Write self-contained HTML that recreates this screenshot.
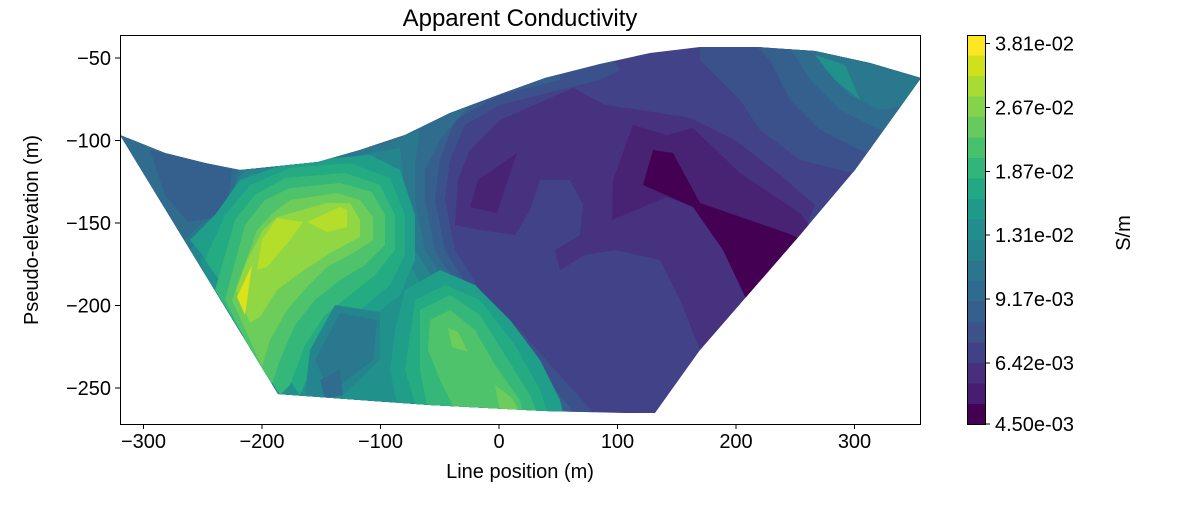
<!DOCTYPE html>
<html><head><meta charset="utf-8"><style>
body{margin:0;background:#fff;}
svg text{font-family:"Liberation Sans","DejaVu Sans",sans-serif;fill:#000;}
</style></head><body>
<svg width="1200" height="500" viewBox="0 0 1200 500" xmlns="http://www.w3.org/2000/svg">
<defs>
<clipPath id="c"><path d="M120,135 L165,153 L205,163 L240,170 L318,162 L360,150 L405,135 L450,113 L498,95 L545,78 L600,64 L650,53 L700,47 L757,47 L815,51 L870,63 L921,78 L855,170 L800,235 L700,350 L655,413 L625,413 L545,411 L430,405 L360,400 L278,394 Z"/></clipPath>
</defs>
<g clip-path="url(#c)">
<rect x="100" y="30" width="840" height="400" fill="#414287"/>
<polygon fill="#3b518b" points="100,100 600,40 620,70 600,80 560,90 500,105 465,125 450,160 445,200 455,250 480,290 520,330 555,370 600,420 100,420"/>
<polygon fill="#3b518b" points="700,40 940,40 940,200 860,175 800,160 760,130 740,100 700,60"/>
<polygon fill="#355f8d" points="100,100 560,40 560,80 500,95 455,120 440,160 435,200 445,250 470,290 505,330 540,370 580,420 100,420"/>
<polygon fill="#355f8d" points="750,40 940,40 940,170 870,155 820,130 790,100 770,60"/>
<polygon fill="#2f6c8e" points="100,100 520,40 520,80 470,105 440,140 425,170 425,200 435,250 460,290 490,320 520,360 560,420 100,420"/>
<polygon fill="#2f6c8e" points="780,40 940,40 940,130 880,130 840,110 810,80 795,55"/>
<polygon fill="#355f8d" points="150,150 205,163 232,170 228,200 212,218 188,222 165,195"/>
<polygon fill="#2a788e" points="240,165 320,160 380,145 420,130 415,165 415,200 425,250 450,290 480,320 505,360 540,420 270,420 200,330 175,250 200,225 230,205"/>
<polygon fill="#2a788e" points="810,40 940,40 940,100 880,110 850,95 825,70"/>
<polygon fill="#25858e" points="245,170 320,163 370,153 400,148 405,200 415,250 440,290 470,320 495,360 525,420 270,420 210,320 190,250 210,225"/>
<polygon fill="#21918c" points="250,175 320,166 380,160 395,200 400,250 425,290 455,320 485,360 515,420 280,420 230,340 200,260 220,225"/>
<polygon fill="#21918c" points="815,55 845,65 860,100 835,80"/>
<!-- left blob -->
<polygon fill="#1f9e89" points="215,215 240,180 290,162 370,155 400,170 415,215 415,260 400,295 375,315 350,335 330,365 320,398 190,240"/>
<polygon fill="#25ab82" points="225,215 250,185 290,168 350,163 390,178 405,215 405,255 390,285 360,310 335,330 315,360 300,395 205,260"/>
<polygon fill="#35b779" points="235,220 255,195 285,178 345,173 380,185 395,215 395,250 375,275 350,295 325,315 305,345 290,385 280,395 215,290"/>
<polygon fill="#4ec36b" points="245,225 265,200 290,188 340,183 372,192 385,215 385,245 365,265 340,280 315,300 295,325 280,360 270,390 225,300"/>
<polygon fill="#6ccd5a" points="257,230 273,213 290,200 337,193 360,200 373,217 373,240 353,253 327,267 307,287 287,310 270,340 262,367 232,300"/>
<polygon fill="#90d743" points="263,230 277,217 327,203 350,203 360,220 360,237 330,253 300,273 277,290 260,317 250,323 236,290 247,260"/>
<polygon fill="#b5de2b" points="277,218 303,222 290,240 267,267 257,270 262,240"/>
<polygon fill="#b5de2b" points="307,222 340,207 347,210 347,227 327,232"/>
<polygon fill="#dde318" points="252,265 237,297 245,315"/>
<!-- lower left patch -->
<polygon fill="#25858e" points="335,305 380,312 380,360 340,398 305,395 310,350"/>
<polygon fill="#2a788e" points="340,313 377,320 373,360 330,393 315,360"/>
<polygon fill="#2f6c8e" points="320,380 340,370 343,395 325,398"/>
<!-- lower green blob -->
<polygon fill="#1f9e89" points="405,290 440,270 475,285 510,320 540,360 560,400 565,420 400,420 390,370 395,330"/>
<polygon fill="#25ab82" points="415,300 445,285 480,300 515,345 540,390 550,420 420,420 405,370"/>
<polygon fill="#35b779" points="420,310 450,295 480,315 505,355 530,395 540,420 430,420 420,370"/>
<polygon fill="#4ec36b" points="430,320 450,310 475,330 495,365 520,400 525,420 460,420 440,380 428,350"/>
<polygon fill="#6ccd5a" points="448,328 458,332 468,352 452,347"/>
<polygon fill="#6ccd5a" points="495,385 512,398 520,412 500,412"/>
<!-- purple -->
<polygon fill="#46327f" points="458,180 470,150 500,120 573,88 605,105 640,110 690,118 735,140 780,175 815,205 800,240 703,357 680,300 660,260 615,250 585,255 560,270 555,250 580,235 583,205 570,180 540,180 530,210 515,235 480,230 455,225"/>
<polygon fill="#482374" points="633,125 667,135 693,128 740,173 800,213 813,230 750,307 723,250 693,207 667,197 612,220 613,180"/>
<polygon fill="#482374" points="478,180 517,153 497,213 470,207"/>
<polygon fill="#440154" points="653,150 673,153 700,203 787,233 803,240 750,307 723,250 693,207 643,185"/>
</g>
<!-- axes -->
<rect x="120.5" y="35.5" width="800" height="389" fill="none" stroke="#000" stroke-width="1"/>
<g stroke="#000" stroke-width="1">
<line x1="143.5" y1="424" x2="143.5" y2="429"/><line x1="262" y1="424" x2="262" y2="429"/><line x1="380.5" y1="424" x2="380.5" y2="429"/><line x1="499" y1="424" x2="499" y2="429"/><line x1="617.5" y1="424" x2="617.5" y2="429"/><line x1="736" y1="424" x2="736" y2="429"/><line x1="854.5" y1="424" x2="854.5" y2="429"/>
<line x1="115" y1="58" x2="120" y2="58"/><line x1="115" y1="140.5" x2="120" y2="140.5"/><line x1="115" y1="223" x2="120" y2="223"/><line x1="115" y1="305.5" x2="120" y2="305.5"/><line x1="115" y1="388" x2="120" y2="388"/>
</g>
<g font-size="20" text-anchor="middle">
<text x="143.5" y="448">−300</text><text x="262" y="448">−200</text><text x="380.5" y="448">−100</text><text x="499" y="448">0</text><text x="617.5" y="448">100</text><text x="736" y="448">200</text><text x="854.5" y="448">300</text>
</g>
<g font-size="20" text-anchor="end">
<text x="111" y="65">−50</text><text x="111" y="147.5">−100</text><text x="111" y="230">−150</text><text x="111" y="312.5">−200</text><text x="111" y="395">−250</text>
</g>
<text x="520" y="478" font-size="20" text-anchor="middle">Line position (m)</text>
<text transform="translate(38,230) rotate(-90)" font-size="20" text-anchor="middle">Pseudo-elevation (m)</text>
<text x="520" y="26" font-size="24" text-anchor="middle">Apparent Conductivity</text>
<!-- colorbar -->
<g>
<rect x="967" y="35" width="18" height="21" fill="#fde725"/>
<rect x="967" y="55.5" width="18" height="21" fill="#d0e11c"/>
<rect x="967" y="76" width="18" height="21" fill="#a8db34"/>
<rect x="967" y="96.5" width="18" height="21" fill="#84d44b"/>
<rect x="967" y="117" width="18" height="21" fill="#65cb5e"/>
<rect x="967" y="137.5" width="18" height="21" fill="#48c16e"/>
<rect x="967" y="158" width="18" height="21" fill="#31b57b"/>
<rect x="967" y="178.5" width="18" height="21" fill="#22a884"/>
<rect x="967" y="199" width="18" height="21" fill="#1f9a8a"/>
<rect x="967" y="219.5" width="18" height="21" fill="#218e8d"/>
<rect x="967" y="240" width="18" height="21" fill="#25838e"/>
<rect x="967" y="260.5" width="18" height="21" fill="#2a768e"/>
<rect x="967" y="281" width="18" height="21" fill="#2f6b8e"/>
<rect x="967" y="301.5" width="18" height="21" fill="#355f8d"/>
<rect x="967" y="322" width="18" height="21" fill="#3b528b"/>
<rect x="967" y="342.5" width="18" height="21" fill="#424086"/>
<rect x="967" y="363" width="18" height="21" fill="#472f7d"/>
<rect x="967" y="383.5" width="18" height="21" fill="#481c6e"/>
<rect x="967" y="404" width="18" height="21" fill="#440154"/>
<rect x="967.5" y="35.5" width="18" height="389" fill="none" stroke="#000"/>
<g stroke="#000"><line x1="985" y1="43.5" x2="990" y2="43.5"/><line x1="985" y1="107.5" x2="990" y2="107.5"/><line x1="985" y1="171.5" x2="990" y2="171.5"/><line x1="985" y1="235" x2="990" y2="235"/><line x1="985" y1="299" x2="990" y2="299"/><line x1="985" y1="363" x2="990" y2="363"/><line x1="985" y1="424" x2="990" y2="424"/></g>
<g font-size="20"><text x="995" y="50.5">3.81e-02</text><text x="995" y="114.5">2.67e-02</text><text x="995" y="178.5">1.87e-02</text><text x="995" y="242">1.31e-02</text><text x="995" y="306">9.17e-03</text><text x="995" y="370">6.42e-03</text><text x="995" y="431">4.50e-03</text></g>
<text transform="translate(1130,233) rotate(-90)" font-size="20" text-anchor="middle">S/m</text>
</g>
</svg>
</body></html>
